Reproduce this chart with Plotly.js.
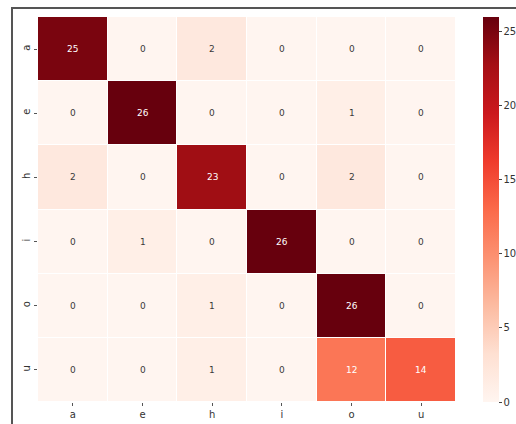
<!DOCTYPE html>
<html>
<head>
<meta charset="utf-8">
<script src="https://cdn.plot.ly/plotly-3.0.1.min.js"></script>
<style>
html,body{margin:0;padding:0;background:#fff;}
#wrap{position:relative;width:516px;height:424px;overflow:hidden;}
#frame{position:absolute;left:11px;top:7px;width:520px;height:430px;border-left:2px solid #555;border-top:2px solid #555;pointer-events:none;z-index:5;}
#chart{position:absolute;left:0;top:0;width:516px;height:424px;}
</style>
</head>
<body>
<div id="wrap"><div id="chart"></div><div id="frame"></div></div>
<script>
const predicted = ['a','e','h','i','o','u'];
const actual = ['a','e','h','i','o','u'];
const counts = [
  [25, 0, 2, 0, 0, 0],
  [0, 26, 0, 0, 1, 0],
  [2, 0, 23, 0, 2, 0],
  [0, 1, 0, 26, 0, 0],
  [0, 0, 1, 0, 26, 0],
  [0, 0, 1, 0, 12, 14]
];
const colorbarTicks = [0, 5, 10, 15, 20, 25];

const reds = [
  [0.0, '#fff5f0'], [0.125, '#fee0d2'], [0.25, '#fcbba1'], [0.375, '#fc9272'],
  [0.5, '#fb6a4a'], [0.625, '#ef3b2c'], [0.75, '#cb181d'], [0.875, '#a50f15'], [1.0, '#67000d']
];

const annotations = [];
actual.forEach((r, i) => {
  predicted.forEach((c, j) => {
    const v = counts[i][j];
    annotations.push({
      x: c, y: r, xref: 'x', yref: 'y', text: String(v), showarrow: false,
      font: {family: 'DejaVu Sans', size: 9, color: v >= 10 ? '#ffffff' : '#3a3a3a'}
    });
  });
});

const trace = {
  type: 'heatmap', x: predicted, y: actual, z: counts,
  colorscale: reds, zmin: 0, zmax: 26, xgap: 1, ygap: 1,
  hoverinfo: 'none',
  colorbar: {
    x: 1.0646, xanchor: 'left', xpad: 0, ypad: 0, y: 0, yanchor: 'bottom', len: 1.0,
    thickness: 16, outlinewidth: 0,
    tickvals: colorbarTicks, ticks: 'outside', ticklen: 3, tickcolor: '#444',
    tickfont: {family: 'DejaVu Sans', size: 10, color: '#333'}
  }
};

const layout = {
  width: 516, height: 424,
  margin: {l: 38, r: 60, t: 17, b: 22, autoexpand: false},
  paper_bgcolor: '#fff', plot_bgcolor: '#fff',
  annotations: annotations,
  xaxis: {
    type: 'category', showgrid: false, zeroline: false, showline: false,
    ticks: 'outside', ticklen: 3, tickcolor: '#555', automargin: false,
    tickfont: {family: 'DejaVu Sans', size: 10, color: '#333'}
  },
  yaxis: {
    type: 'category', autorange: 'reversed', showgrid: false, zeroline: false, showline: false,
    ticks: 'outside', ticklen: 3, tickcolor: '#555', tickangle: -90, automargin: false,
    tickfont: {family: 'DejaVu Sans', size: 10, color: '#333'}
  }
};

Plotly.newPlot('chart', [trace], layout, {displayModeBar: false, staticPlot: true});
</script>
</body>
</html>
